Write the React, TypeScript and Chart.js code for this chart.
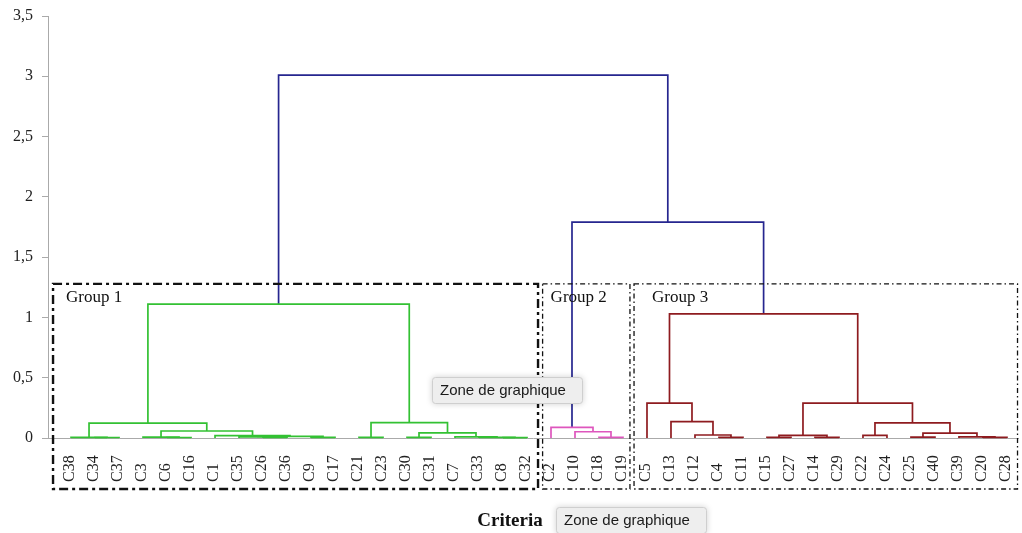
import React, { useEffect, useRef } from 'react';
import { Chart, registerables } from 'chart.js';
Chart.register(...registerables);

// Leaf order along the x axis
const leaves = [
  'C38', 'C34', 'C37', 'C3', 'C6', 'C16', 'C1', 'C35', 'C26', 'C36', 'C9', 'C17',
  'C21', 'C23', 'C30', 'C31', 'C7', 'C33', 'C8', 'C32',
  'C2', 'C10', 'C18', 'C19',
  'C5', 'C13', 'C12', 'C4', 'C11', 'C15', 'C27', 'C14', 'C29', 'C22', 'C24', 'C25', 'C40', 'C39', 'C20', 'C28',
];

// Merges (node k is named "n" + (k+1))
const mergeLeft = [
  'C34', 'C38', 'C6', 'C3', 'C26', 'C35', 'C9', 'n6', 'C1', 'n4', 'n2', 'C21', 'C30', 'C8', 'C33', 'C7', 'n13', 'n12', 'n11',
  'C18', 'C10', 'C2',
  'C4', 'C12', 'C13', 'C5', 'C15', 'C14', 'n27', 'C22', 'C25', 'C20', 'C39', 'n31', 'n30', 'n29', 'n26',
  'n22', 'n19',
];
const mergeRight = [
  'C37', 'n1', 'C16', 'n3', 'C36', 'n5', 'C17', 'n7', 'n8', 'n9', 'n10', 'C23', 'C31', 'C32', 'n14', 'n15', 'n16', 'n17', 'n18',
  'C19', 'n20', 'n21',
  'C11', 'n23', 'n24', 'n25', 'C27', 'C29', 'n28', 'C24', 'C40', 'C28', 'n32', 'n33', 'n34', 'n35', 'n36',
  'n37', 'n38',
];
const mergeHeight = [
  0.004, 0.006, 0.004, 0.007, 0.005, 0.01, 0.005, 0.014, 0.02, 0.058, 0.124, 0.006, 0.006, 0.003, 0.006, 0.009, 0.042, 0.128, 1.11,
  0.006, 0.052, 0.088,
  0.006, 0.025, 0.135, 0.29, 0.005, 0.006, 0.022, 0.022, 0.008, 0.005, 0.01, 0.04, 0.125, 0.29, 1.03,
  1.79, 3.01,
];
// 0 = top links, 1 = Group 1, 2 = Group 2, 3 = Group 3
const mergeGroup = [
  1, 1, 1, 1, 1, 1, 1, 1, 1, 1, 1, 1, 1, 1, 1, 1, 1, 1, 1,
  2, 2, 2,
  3, 3, 3, 3, 3, 3, 3, 3, 3, 3, 3, 3, 3, 3, 3,
  0, 0,
];
const groupNames = ['Group 1', 'Group 2', 'Group 3'];
const yMin = 0;
const yMax = 3.5;
const yStep = 0.5;
const xTitle = 'Criteria';
const tipText = 'Zone de graphique';

const groupColors = ['#26268f', '#33c133', '#de56bd', '#8e1b1f'];

export default function App() {
  const ref = useRef<HTMLCanvasElement>(null);
  useEffect(() => {
    const canvas = ref.current!;
    const pos: Record<string, number> = {};
    const hgt: Record<string, number> = {};
    leaves.forEach((l, i) => {
      pos[l] = i;
      hgt[l] = 0;
    });
    const datasets = mergeLeft.map((l, k) => {
      const r = mergeRight[k];
      const h = mergeHeight[k];
      const xl = pos[l];
      const xr = pos[r];
      const ds = {
        data: [
          { x: xl, y: hgt[l] },
          { x: xl, y: h },
          { x: xr, y: h },
          { x: xr, y: hgt[r] },
        ],
        borderColor: groupColors[mergeGroup[k]],
        borderWidth: 1.7,
        pointRadius: 0,
        fill: false,
        tension: 0,
        clip: false as any,
      };
      pos['n' + (k + 1)] = (xl + xr) / 2;
      hgt['n' + (k + 1)] = h;
      return ds;
    });

    const boxes = [
      { x0: -0.75, x1: 19.46, lw: 2.4, dash: [9, 4, 3, 4], labelDx: 13 },
      { x0: 19.65, x1: 23.29, lw: 1.3, dash: [5, 3, 1.5, 3], labelDx: 8 },
      { x0: 23.46, x1: 39.44, lw: 1.3, dash: [5, 3, 1.5, 3], labelDx: 18 },
    ];

    const overlay = {
      id: 'overlay',
      afterDraw(chart: any) {
        const ctx = chart.ctx as CanvasRenderingContext2D;
        const xs = chart.scales.x;
        const ys = chart.scales.y;
        const area = chart.chartArea;
        ctx.save();
        // leaf labels
        ctx.fillStyle = '#222';
        ctx.font = '16px "Liberation Serif"';
        ctx.textAlign = 'left';
        ctx.textBaseline = 'middle';
        leaves.forEach((l, i) => {
          const x = xs.getPixelForValue(i) - 1.5;
          ctx.save();
          ctx.translate(x, area.bottom + 44);
          ctx.rotate(-Math.PI / 2);
          ctx.fillText(l, 0, 0);
          ctx.restore();
        });
        // group boxes
        const top = ys.getPixelForValue(1.278);
        const bottom = area.bottom + 51;
        boxes.forEach((b, i) => {
          const x0 = xs.getPixelForValue(b.x0);
          const x1 = xs.getPixelForValue(b.x1);
          ctx.save();
          ctx.strokeStyle = '#111';
          ctx.lineWidth = b.lw;
          ctx.setLineDash(b.dash);
          ctx.strokeRect(x0, top, x1 - x0, bottom - top);
          ctx.restore();
          ctx.fillStyle = '#111';
          ctx.font = '17px "Liberation Serif"';
          ctx.textAlign = 'left';
          ctx.textBaseline = 'middle';
          ctx.fillText(groupNames[i], x0 + b.labelDx, top + 14);
        });
        // axis title
        ctx.fillStyle = '#111';
        ctx.font = 'bold 19px "Liberation Serif"';
        ctx.textAlign = 'center';
        ctx.textBaseline = 'middle';
        ctx.fillText(xTitle, 510, 521);
        // hover tips
        const tips = [
          { x: 432, y: 377 },
          { x: 556, y: 507 },
        ];
        tips.forEach((t) => {
          ctx.save();
          ctx.shadowColor = 'rgba(0,0,0,0.18)';
          ctx.shadowBlur = 6;
          ctx.fillStyle = '#eeeeee';
          ctx.beginPath();
          (ctx as any).roundRect(t.x, t.y, 151, 27, 3);
          ctx.fill();
          ctx.restore();
          ctx.strokeStyle = '#cfcfcf';
          ctx.lineWidth = 1;
          ctx.beginPath();
          (ctx as any).roundRect(t.x + 0.5, t.y + 0.5, 150, 26, 3);
          ctx.stroke();
          ctx.fillStyle = '#1a1a1a';
          ctx.font = '15px "Liberation Sans"';
          ctx.textAlign = 'left';
          ctx.textBaseline = 'middle';
          ctx.fillText(tipText, t.x + 8, t.y + 14);
        });
        ctx.restore();
      },
    };

    const chart = new Chart(canvas, {
      type: 'line',
      data: { datasets: datasets as any },
      options: {
        responsive: false,
        animation: false,
        devicePixelRatio: 1,
        events: [],
        layout: { padding: { top: 16, right: 4, left: 0, bottom: 0 }, autoPadding: false },
        plugins: { legend: { display: false }, tooltip: { enabled: false } },
        scales: {
          x: {
            type: 'linear',
            min: -0.96,
            max: 39.46,
            grid: { display: false },
            border: { color: '#aaaaaa', width: 1 },
            ticks: { display: false },
            afterFit: (s: any) => {
              s.height = 95;
              s.paddingLeft = 0;
              s.paddingRight = 0;
            },
          },
          y: {
            type: 'linear',
            min: yMin,
            max: yMax,
            ticks: {
              stepSize: yStep,
              callback: (v: any) => String(v).replace('.', ','),
              font: { family: 'Liberation Serif', size: 16 },
              color: '#222',
              padding: 9,
            },
            grid: { drawOnChartArea: false, drawTicks: true, tickLength: 6, color: '#aaaaaa' },
            border: { color: '#aaaaaa', width: 1 },
            afterFit: (s: any) => {
              s.width = 48;
              s.paddingTop = 0;
              s.paddingBottom = 0;
            },
          },
        },
      },
      plugins: [overlay],
    });
    return () => chart.destroy();
  }, []);

  return (
    <div style={{ position: 'fixed', left: 0, top: 0, width: 1022, height: 533, background: '#fff' }}>
      <canvas ref={ref} width={1022} height={533} style={{ width: 1022, height: 533 }} />
    </div>
  );
}
